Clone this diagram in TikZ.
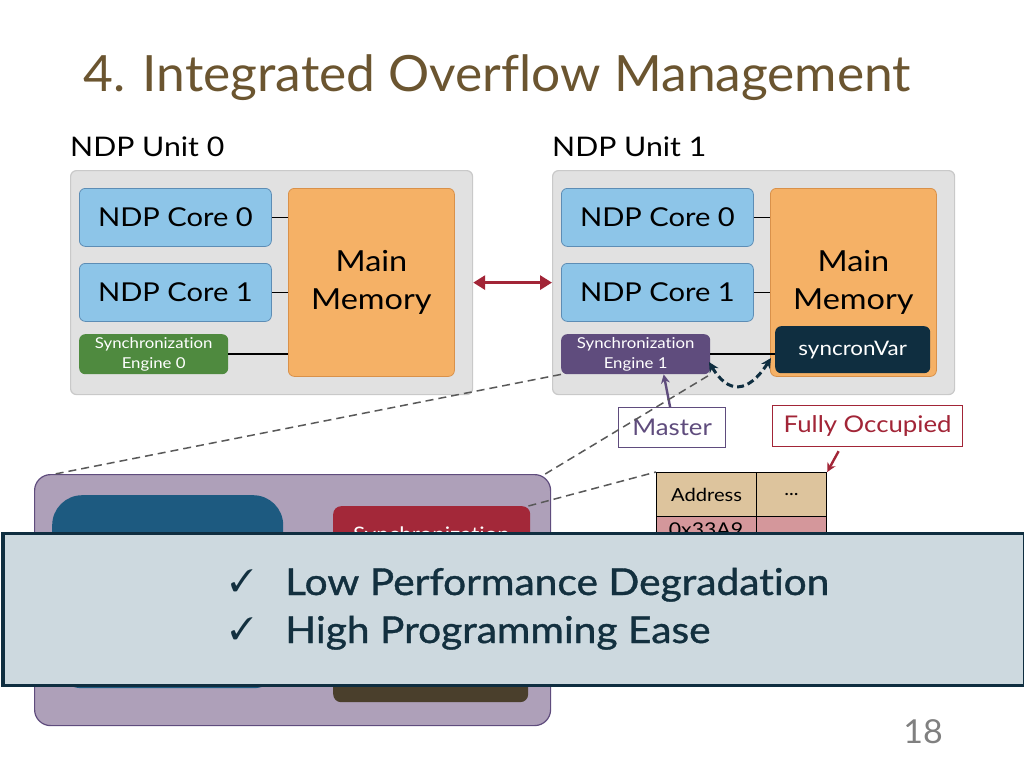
\documentclass[tikz,border=0pt]{standalone}
\usepackage{pifont}
\usepackage{fontspec}
\setmainfont{Lato}[FakeStretch=1.12, Ligatures=NoCommon]
\newfontfamily\titlefont{Lato}[FakeStretch=1.03, Ligatures=NoCommon]
\newfontfamily\bulletfont{Lato}[FakeStretch=1.1, FakeBold=1.0, Ligatures=NoCommon]
\usetikzlibrary{arrows.meta,calc}
\definecolor{titlec}{HTML}{6B5530}
\definecolor{unitfill}{HTML}{E1E1E1}
\definecolor{unitdraw}{HTML}{C9C9C9}
\definecolor{corefill}{HTML}{8DC5E8}
\definecolor{coredraw}{HTML}{5D8DB5}
\definecolor{memfill}{HTML}{F5B166}
\definecolor{memdraw}{HTML}{D9914A}
\definecolor{segreen}{HTML}{4F8A3F}
\definecolor{sepurple}{HTML}{5F4C7D}
\definecolor{navy}{HTML}{0F2E40}
\definecolor{darkred}{HTML}{A22537}
\definecolor{tabhead}{HTML}{DDC49D}
\definecolor{tabpink}{HTML}{D4979B}
\definecolor{pbfill}{HTML}{AEA0B9}
\definecolor{dblue}{HTML}{1D5A80}
\definecolor{boxred}{HTML}{A32839}
\definecolor{brown}{HTML}{4A3F2C}
\definecolor{ovfill}{HTML}{CDD9DF}
\definecolor{ovtext}{HTML}{13303F}
\newcommand\fsz[2]{\fontsize{#1bp}{#2bp}\selectfont}
\tikzset{
  blk/.style={anchor=north west, inner sep=0pt, align=center, rounded corners=6bp},
  unitbox/.style={blk, fill=unitfill, draw=unitdraw, line width=1.2bp, minimum width=402bp, minimum height=224bp},
  corebox/.style={blk, fill=corefill, draw=coredraw, line width=0.8bp, minimum width=192bp, minimum height=58bp, font=\fsz{26}{30}},
  membox/.style={blk, fill=memfill, draw=memdraw, line width=0.8bp, minimum width=166bp, minimum height=188bp, font=\fsz{29}{38}},
  sebox/.style={blk, minimum width=149bp, minimum height=40bp, text=white, font=\fsz{15}{20}},
  wire/.style={line width=1.8bp, black},
  zoomline/.style={dashed, dash pattern=on 8bp off 5bp, line width=1.5bp, black!65},
  tcell/.style={anchor=north west, draw=black, line width=1.2bp, inner sep=0pt, minimum height=44bp, font=\fsz{18}{20}},
}
\begin{document}
\begin{tikzpicture}[x=1bp,y=-1bp]
\useasboundingbox (0,0) rectangle (1024,768);
\fill[white] (0,0) rectangle (1024,768);
% title
\node[anchor=base west, inner sep=0, text=titlec, font=\titlefont\fsz{50}{56}] (title) at (83,92) {4. Integrated Overflow Management};
\node[anchor=base west, inner sep=0, font=\fsz{27}{30}] (u0lab) at (70,156) {NDP Unit 0};
\node[anchor=base west, inner sep=0, font=\fsz{27}{30}] (u1lab) at (552,156) {NDP Unit 1};
% unit 0
\node[unitbox] (unit0) at (70,170) {};
\node[corebox] (c00) at (79,188) {NDP Core 0};
\node[corebox] (c01) at (79,263) {NDP Core 1};
\node[membox] (mem0) at (288,188) {Main\\Memory};
\node[sebox, fill=segreen] (se0) at (79,334) {Synchronization\\Engine 0};
\draw[wire] (c00.east) -- (c00.east -| mem0.west);
\draw[wire] (c01.east) -- (c01.east -| mem0.west);
\draw[wire] (se0.east) -- (se0.east -| mem0.west);
% unit 1
\node[unitbox] (unit1) at (552,170) {};
\node[corebox] (c10) at (561,188) {NDP Core 0};
\node[corebox] (c11) at (561,263) {NDP Core 1};
\node[membox] (mem1) at (770,188) {Main\\Memory};
\node[sebox, fill=sepurple] (se1) at (561,334) {Synchronization\\Engine 1};
\node[blk, fill=navy, minimum width=155bp, minimum height=47bp, text=white, font=\fsz{20}{24}] (svar) at (775,326) {syncronVar};
\draw[wire] (c10.east) -- (c10.east -| mem1.west);
\draw[wire] (c11.east) -- (c11.east -| mem1.west);
\draw[wire] (se1.east) -- (se1.east -| svar.west);
% link between units
\draw[darkred, line width=3bp, {Triangle[width=14bp,length=12bp]}-{Triangle[width=14bp,length=12bp]}] (unit0.east) -- (unit1.west);
% dashed curved arrow
\coordinate (cvA) at (709,362);
\coordinate (cvB) at (771,358);
\draw[navy, line width=3bp, dashed, dash pattern=on 7bp off 4bp, {Stealth[length=10bp,width=10bp]}-{Stealth[length=10bp,width=10bp]}] (cvA) .. controls (728,394) and (748,394) .. (cvB);
% master
\node[anchor=north west, draw=sepurple, line width=1.2bp, minimum width=107bp, minimum height=40bp, inner sep=0, text=sepurple, font=\fsz{23}{26}] (master) at (618,407) {Master};
\draw[sepurple, line width=2.4bp, -{Stealth[length=9bp,width=9bp]}] ($(master.north)+(-2,0)$) -- ($(se1.south)+(28,0)$);
% fully occupied
\node[anchor=north west, draw=darkred, line width=1.2bp, minimum width=190bp, minimum height=41bp, inner sep=0, text=darkred, font=\fsz{23}{26}] (fo) at (772,405) {Fully Occupied};
% table
\node[tcell, fill=tabhead, minimum width=100bp] (taddr) at (656,472) {Address};
\node[tcell, fill=tabhead, minimum width=70bp] (tdots) at (756,472) {...};
\node[tcell, fill=tabpink, minimum width=100bp] (tr1a) at (656,516) {};
\node[tcell, fill=tabpink, minimum width=70bp] (tr1b) at (756,516) {};
\node[anchor=base, inner sep=0, font=\fsz{19}{20}] (tr1txt) at (706,536) {0x33A9};
\draw[darkred, line width=2.4bp, -{Stealth[length=9bp,width=9bp]}] ($(fo.south)+(-29,4)$) -- (tdots.north east);
% lower purple box
\node[anchor=north west, fill=pbfill, draw=sepurple, line width=1.2bp, rounded corners=16bp, minimum width=516bp, minimum height=251bp, inner sep=0] (pb) at (34,474) {};
\node[anchor=north west, fill=dblue, rounded corners=30bp, minimum width=231bp, minimum height=193bp, inner sep=0] (dbox) at (52,495) {};
\node[anchor=north west, fill=boxred, rounded corners=8bp, minimum width=197bp, minimum height=64bp, inner sep=0] (rbox) at (333,506) {};
\node[anchor=base, inner sep=0, text=white, font=\fsz{20}{24}] (rtxt) at (431.5,541) {Synchronization};
\node[anchor=north west, fill=brown, rounded corners=8bp, minimum width=195bp, minimum height=92bp, inner sep=0] (bbox) at (333,610) {};
% dashed zoom lines
\draw[zoomline] (se1.south west) -- ($(pb.north west)+(21,0)$);
\draw[zoomline] ($(pb.north east)+(-6,0)$) -- (se1.south east);
\draw[zoomline] ($(rbox.north east)+(-2,0)$) -- (taddr.north west);
% overlay
\node[anchor=north west, fill=ovfill, draw=navy, line width=3bp, minimum width=1021bp, minimum height=152bp, inner sep=0] (ov) at (1.5,532) {};
\node[anchor=base west, inner sep=0, text=ovtext, font=\bulletfont\fsz{37}{40}] (b1) at (285,595) {Low Performance Degradation};
\node[anchor=base west, inner sep=0, text=ovtext, font=\bulletfont\fsz{37}{40}] (b2) at (285,643) {High Programming Ease};
\node[anchor=base west, inner sep=0, text=ovtext, font=\fsz{31}{30}] (k1) at (230,591) {\ding{51}};
\node[anchor=base west, inner sep=0, text=ovtext, font=\fsz{31}{30}] (k2) at (230,639) {\ding{51}};
% page number
\node[anchor=base, inner sep=0, text=black!50, font=\titlefont\fsz{33}{36}] (pg) at (923,743) {18};
\end{tikzpicture}
\end{document}
